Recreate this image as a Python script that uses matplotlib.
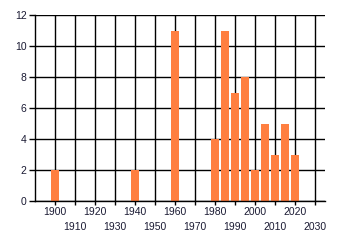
import matplotlib
matplotlib.use("Agg")
import matplotlib.pyplot as plt
from matplotlib.ticker import FixedLocator

years = [1900, 1940, 1960, 1980, 1985, 1990, 1995, 2000, 2005, 2010, 2015, 2020]
counts = [2, 2, 11, 4, 11, 7, 8, 2, 5, 3, 5, 3]
major_labels = [1900, 1920, 1940, 1960, 1980, 2000, 2020]
minor_labels = [1910, 1930, 1950, 1970, 1990, 2010, 2030]
y_ticks = [0, 2, 4, 6, 8, 10, 12]

plt.rcParams['font.family'] = ['Liberation Sans', 'DejaVu Sans']

fig = plt.figure(figsize=(3.4, 2.45), dpi=100)
ax = fig.add_axes([35/340, 44/245, 290/340, 186/245])

ax.bar(years, counts, width=4, color='#FF7F40', zorder=3)

ax.set_xlim(1890, 2035)
ax.set_ylim(0, 12)
ax.xaxis.set_major_locator(FixedLocator(major_labels))
ax.xaxis.set_minor_locator(FixedLocator(minor_labels))
ax.set_xticklabels([str(v) for v in major_labels])
ax.set_xticklabels([str(v) for v in minor_labels], minor=True)
ax.set_yticks(y_ticks)
ax.set_yticklabels([str(v) for v in y_ticks])

ax.grid(True, which='both', color='black', linewidth=1.0, zorder=1)
ax.set_axisbelow(True)

for s in ['top', 'right']:
    ax.spines[s].set_visible(False)
for s in ['left', 'bottom']:
    ax.spines[s].set_linewidth(1.0)
    ax.spines[s].set_zorder(4)

ax.tick_params(axis='x', which='major', length=3, width=1, pad=1.5, labelsize=7.5, colors='black')
ax.tick_params(axis='x', which='minor', length=3, width=1, pad=12, labelsize=7.5, colors='black')
ax.tick_params(axis='y', length=4, width=1, pad=2, labelsize=7.5, colors='black')
for lbl in ax.get_xticklabels(which='both') + ax.get_yticklabels():
    lbl.set_color('#1a1a33')

fig.savefig('out.png', dpi=100, facecolor='white')
